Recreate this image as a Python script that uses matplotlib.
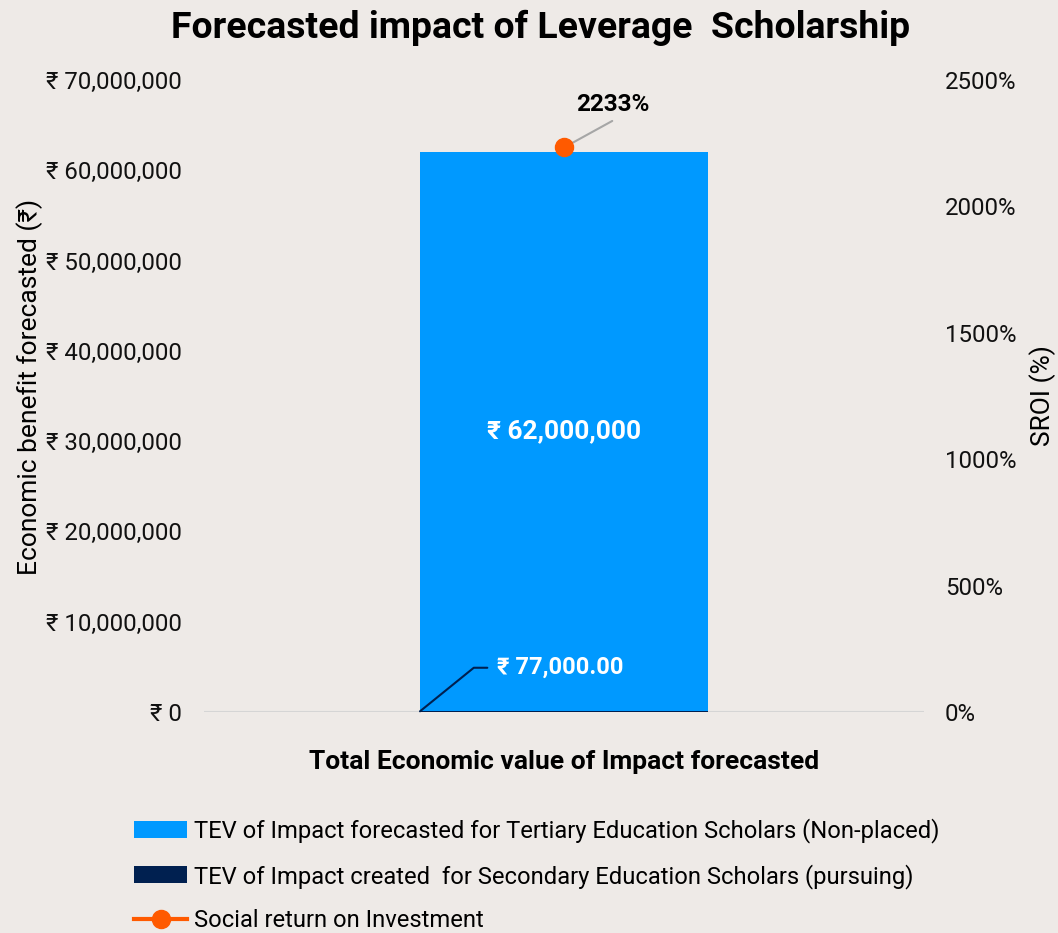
import matplotlib
matplotlib.use("Agg")
import matplotlib.pyplot as plt
from matplotlib.ticker import FuncFormatter

plt.rcParams['font.family'] = ['Roboto', 'Noto Sans', 'DejaVu Sans']

categories = ["Total Economic value of Impact forecasted"]
tertiary = [62000000]
secondary = [77000]
sroi = [2233]
left_ticks = [0, 10000000, 20000000, 30000000, 40000000, 50000000, 60000000, 70000000]
right_ticks = [0, 500, 1000, 1500, 2000, 2500]

BG = "#EEEAE7"
BLUE = "#0099FF"
NAVY = "#002050"
ORANGE = "#FF5A00"

fig = plt.figure(figsize=(10.58, 9.33), dpi=100, facecolor=BG)
ax = fig.add_axes([204 / 1058, 1 - 712 / 933, 720 / 1058, 632 / 933])
ax.set_facecolor(BG)
ax2 = ax.twinx()

x = [0]
ax.bar(x, secondary, width=0.4, color=NAVY, zorder=3,
       label="TEV of Impact created  for Secondary Education Scholars (pursuing)")
ax.bar(x, tertiary, width=0.4, bottom=secondary, color=BLUE, zorder=3,
       label="TEV of Impact forecasted for Tertiary Education Scholars (Non-placed)")
ax2.plot(x, sroi, color=ORANGE, marker="o", markersize=13, lw=3, zorder=5,
         label="Social return on Investment")

ax.set_xlim(-0.5, 0.5)
ax.set_ylim(0, 70000000)
ax2.set_ylim(0, 2500)
ax.set_yticks(left_ticks)
ax2.set_yticks(right_ticks)
ax.yaxis.set_major_formatter(FuncFormatter(lambda v, p: "₹ {:,.0f}".format(v)))
ax2.yaxis.set_major_formatter(FuncFormatter(lambda v, p: "{:.0f}%".format(v)))
ax.set_xticks([])
for a in (ax, ax2):
    for s in a.spines.values():
        s.set_visible(False)
    a.tick_params(axis="y", length=0, labelsize=17.3, colors="#111111")
ax.tick_params(axis="y", pad=16)
ax2.tick_params(axis="y", pad=15)
ax.axhline(0, color="#D5D5D5", lw=1.5, zorder=2)

ax.set_ylabel("Economic benefit forecasted (₹)", fontsize=19, labelpad=2)
ax.yaxis.label.set_y(0.515)
ax2.set_ylabel("SROI (%)", fontsize=19, labelpad=9)
ax.set_xlabel(categories[0], fontsize=19, fontweight="bold", labelpad=27)

# value labels
ax.text(x[0], secondary[0] + tertiary[0] / 2, "₹ {:,.0f}".format(tertiary[0]),
        ha="center", va="center", color="white", fontsize=19, fontweight="bold", zorder=6)
ax.annotate("₹ {:,.2f}".format(secondary[0]), xy=(x[0] - 0.2, secondary[0]),
            xytext=(-0.093, 4900000), textcoords="data",
            ha="left", va="center", color="white", fontsize=17, fontweight="bold",
            arrowprops=dict(arrowstyle="-", color=NAVY, lw=1.5,
                            connectionstyle="angle,angleA=0,angleB=39,rad=0",
                            shrinkA=5, shrinkB=0), zorder=6)
ax2.text(0.068, 2405, "{}%".format(sroi[0]), ha="center", va="center",
         fontsize=17.5, fontweight="bold", zorder=6)
ax2.annotate("", xy=(x[0], sroi[0]), xytext=(0.067, 2338),
             arrowprops=dict(arrowstyle="-", color="#A6A6A6", lw=1.5,
                             shrinkA=0, shrinkB=0), zorder=4)

fig.suptitle("Forecasted impact of Leverage  Scholarship", x=0.511, y=0.99,
             fontsize=26.9, fontweight="bold")

h1, l1 = ax.get_legend_handles_labels()
h2, l2 = ax2.get_legend_handles_labels()
fig.legend([h1[1], h1[0], h2[0]], [l1[1], l1[0], l2[0]], loc="upper left",
           bbox_to_anchor=(113 / 1058, 1 - 797 / 933), frameon=False, fontsize=17.1,
           handlelength=2.2, handletextpad=0.3, labelspacing=0.86)

fig.savefig("out.png", dpi=100, facecolor=BG)
